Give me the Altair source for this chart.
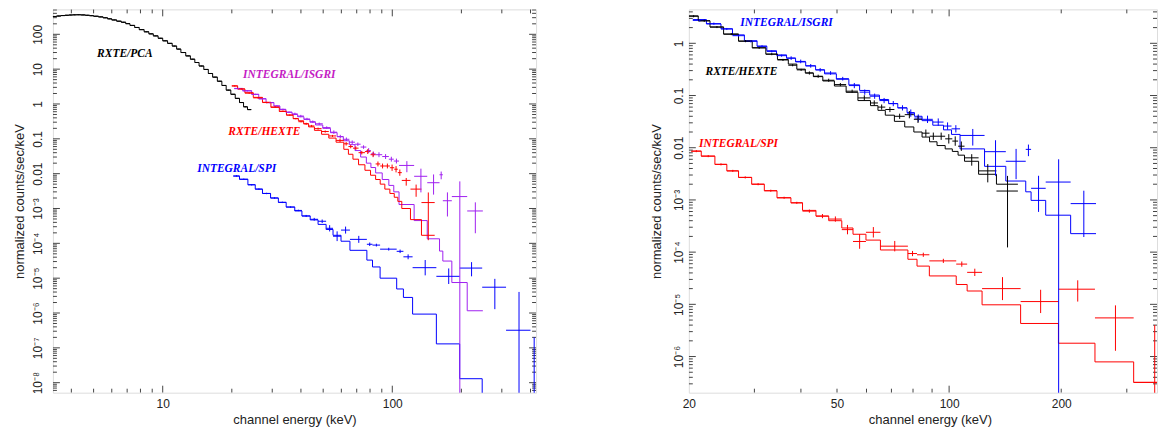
import math
import altair as alt
import pandas as pd

SANS = "Liberation Sans"
SERIF = "Liberation Serif"

# ---------------- data ----------------
# RXTE/PCA (left panel only): channel edges (keV) and counts
pca_edges = [3.3, 3.45, 3.6, 3.75, 3.9, 4.05, 4.2, 4.4, 4.6, 4.8, 5.0, 5.25, 5.5, 5.75, 6.0,
             6.3, 6.6, 6.9, 7.2, 7.55, 7.9, 8.3, 8.7, 9.1, 9.55, 10.0, 10.5, 11.0, 11.5, 12.0,
             12.6, 13.2, 13.8, 14.4, 15.1, 15.8, 16.5, 17.3, 18.1, 18.9, 19.8, 20.7, 21.6, 22.5,
             23.4, 24.3]
pca_vals = [325, 335, 345, 352, 358, 362, 364, 360, 352, 342, 330, 316, 298, 278, 258,
            238, 222, 202, 180, 157, 136, 118, 103, 90, 77, 65, 55, 46, 37.6, 30,
            24, 19.3, 15.5, 12.3, 9.8, 7.5, 5.9, 4.5, 3.4, 2.5, 1.9, 1.45, 1.1, 0.83, 0.69]

# INTEGRAL/ISGRI
isgri_edges = [20.5, 22.3, 24.4, 26.2, 28.2, 30.5, 32.4, 34.4, 36.6, 38.7, 41.2, 43.8, 46.3,
               49.8, 53.8, 57.5, 61.2, 65.0, 68.8, 72.8, 77.1, 80.7, 84.6, 90.4, 96.6, 101.5,
               107, 124.5, 142, 160.6, 166, 181.7, 212, 248]
isgri_data = [2.75, 2.38, 1.88, 1.40, 1.09, 0.88, 0.70, 0.58, 0.52, 0.45, 0.37, 0.31, 0.27,
              0.21, 0.155, 0.116, 0.097, 0.080, 0.070, 0.058, 0.046, 0.037, 0.035, 0.031,
              0.026, 0.023, 0.0172, 0.0084, 0.0055, 0.0093, 0.00167, 0.0022, 0.00085]
isgri_up = [0.02] * 8 + [0.035] * 6 + [0.05] * 6 + [0.07] * 6 + [0.124, 0.219, 0.237, 0.092, 0.24, 0.436, 0.247]
isgri_dn = [0.02] * 8 + [0.035] * 6 + [0.05] * 6 + [0.07] * 6 + [0.194, 0.462, 0.342, 0.13, 0.452, None, 0.64]
isgri_model_left = [2.8, 2.4, 1.9, 1.42, 1.1, 0.87, 0.70, 0.58, 0.50, 0.43, 0.36, 0.30, 0.25,
                    0.20, 0.15, 0.115, 0.088, 0.068, 0.046, 0.030, 0.020, 0.0150, 0.0105,
                    0.0068, 0.0046, 0.0030, 0.0013, 0.00045, 0.000135, 0.00006, 0.000031,
                    0.0000075, 0.00000116]
isgri_model_right = [2.85, 2.35, 1.9, 1.45, 1.12, 0.88, 0.72, 0.60, 0.52, 0.44, 0.37, 0.31, 0.26,
                     0.205, 0.16, 0.125, 0.102, 0.084, 0.070, 0.058, 0.047, 0.040, 0.033, 0.027,
                     0.022, 0.018, 0.0095, 0.0044, 0.0023, 0.00143, 0.00098, 0.00051, 0.000226]

# RXTE/HEXTE
hexte_edges = [20, 21.2, 22.8, 24.8, 27.2, 29.6, 32.2, 34.6, 37.0, 39.0, 41.1, 43.2, 45.8, 49.2,
               52.9, 56.9, 61.5, 64.4, 67.4, 71.3, 76.0, 80.4, 84.6, 88.6, 92.8, 97.6, 102,
               105.7, 110, 120, 134, 153]
hexte_data = [3.3, 2.7, 2.05, 1.5, 1.1, 0.82, 0.62, 0.48, 0.38, 0.31, 0.27, 0.234, 0.196, 0.162,
              0.121, 0.090, 0.072, 0.060, 0.054, 0.040, 0.043, 0.035, 0.019, 0.0166, 0.0166,
              0.0148, 0.0134, 0.0107, 0.0064, 0.0036, 0.00148]
hexte_up = [0.02] * 10 + [0.03] * 5 + [0.05] * 5 + [0.07] * 5 + [0.09] * 3 + [0.07, 0.13, 0.29]
hexte_dn = [0.02] * 10 + [0.03] * 5 + [0.05] * 5 + [0.07] * 5 + [0.09] * 3 + [0.15, 0.22, 1.08]
hexte_model_left = [3.3, 2.7, 2.1, 1.55, 1.12, 0.80, 0.61, 0.48, 0.38, 0.33, 0.27, 0.22, 0.175,
                    0.135, 0.105, 0.080, 0.050, 0.036, 0.026, 0.018, 0.0125, 0.0090, 0.0068,
                    0.0050, 0.0036, 0.0027, 0.0021, 0.0016, 0.0010, 0.00048, 0.00017]
hexte_model_right = [3.35, 2.7, 2.05, 1.5, 1.1, 0.82, 0.62, 0.49, 0.40, 0.32, 0.27, 0.23, 0.19,
                     0.152, 0.115, 0.080, 0.064, 0.052, 0.042, 0.032, 0.025, 0.020, 0.016,
                     0.013, 0.011, 0.0095, 0.0085, 0.0072, 0.0055, 0.0031, 0.0020]

# INTEGRAL/SPI
spi_edges = [20.3, 21.6, 23.5, 25.3, 27.2, 29.5, 31.9, 34.5, 37.6, 40.4, 43.9, 47.5, 51.5, 55.2,
             59.8, 65.4, 77.5, 82.0, 88.5, 104.5, 111.8, 122.6, 155.6, 196.6, 246.4, 313, 400, 430]
spi_data = [8.6e-3, 6.9e-3, 4.8e-3, 3.6e-3, 2.7e-3, 2.0e-3, 1.5e-3, 1.1e-3, 8.8e-4, 6.1e-4,
            4.9e-4, 4.3e-4, 2.7e-4, 1.6e-4, 2.4e-4, 1.3e-4, 9.4e-5, 8.9e-5, 6.8e-5, 5.9e-5,
            4.1e-5, 2.0e-5, 1.13e-5, 1.95e-5, 5.5e-6, 3.2e-7, 1e-10]
spi_up = [0.02] * 9 + [0.03, 0.04, 0.05, 0.09, 0.14, 0.10, 0.10, 0.05, 0.04, 0.04, 0.05, 0.07,
                        0.22, 0.226, 0.17, 0.24, 1.1, 3.3]
spi_dn = [0.02] * 9 + [0.03, 0.04, 0.05, 0.09, 0.14, 0.10, 0.10, 0.05, 0.04, 0.04, 0.05, 0.07,
                        0.22, 0.22, 0.237, 0.63, None, None]
spi_model_left = [8.5e-3, 6.9e-3, 4.8e-3, 3.6e-3, 2.7e-3, 2.0e-3, 1.5e-3, 1.1e-3, 8.5e-4, 6.1e-4,
                  4.7e-4, 3.5e-4, 2.5e-4, 1.7e-4, 1.15e-4, 6.3e-5, 3.3e-5, 2.1e-5, 1.0e-5, 4.9e-6,
                  2.8e-6, 9.3e-7, 1.3e-7, 1.3e-8, 0, 0]
spi_model_right = [8.6e-3, 6.9e-3, 4.8e-3, 3.6e-3, 2.7e-3, 2.0e-3, 1.5e-3, 1.1e-3, 8.8e-4, 6.3e-4,
                   4.9e-4, 4.0e-4, 2.9e-4, 2.2e-4, 1.7e-4, 1.1e-4, 7.3e-5, 5.4e-5, 3.5e-5, 2.4e-5,
                   1.8e-5, 9.8e-6, 4.3e-6, 1.8e-6, 7.9e-7, 3.2e-7]

# annotations
left_labels = ["RXTE/PCA", "INTEGRAL/ISGRI", "RXTE/HEXTE", "INTEGRAL/SPI"]
left_label_x = [6.84, 35.6, 27.7, 21.0]
left_label_y = [26.7, 6.7, 0.156, 0.0136]
left_label_c = ["#000000", "#c41cc4", "#ff0000", "#0000ff"]
right_labels = ["INTEGRAL/ISGRI", "RXTE/HEXTE", "INTEGRAL/SPI"]
right_label_x = [36.6, 27.7, 27.2]
right_label_y = [2.44, 0.279, 0.0119]
right_label_c = ["#0000ff", "#000000", "#ff0000"]

# tick labels and tick marks
left_y_vals = [1e-8, 1e-7, 1e-6, 1e-5, 1e-4, 1e-3, 0.01, 0.1, 1, 10, 100]
left_y_text = ["10⁻⁸", "10⁻⁷", "10⁻⁶", "10⁻⁵", "10⁻⁴", "10⁻³", "0.01", "0.1", "1", "10", "100"]
right_y_vals = [1e-6, 1e-5, 1e-4, 1e-3, 0.01, 0.1, 1]
right_y_text = ["10⁻⁶", "10⁻⁵", "10⁻⁴", "10⁻³", "0.01", "0.1", "1"]
left_x_vals = [10, 100]
right_x_vals = [20, 50, 100, 200]
left_x_major = [10, 100]
left_x_minor = [4, 5, 6, 7, 8, 9, 20, 30, 40, 50, 60, 70, 80, 90, 200, 300, 400]
right_x_major = [100]
right_x_minor = [30, 40, 50, 60, 70, 80, 90, 200, 300]

TINY = 1e-30
TICK = "#444444"
MAJ, MIN = 7, 4


def step_rows(name, color, edges, vals):
    rows = []
    n = len(vals)
    for i in range(n):
        rows.append(dict(s=name, c=color, x=edges[i], y=vals[i] if vals[i] > 0 else TINY, o=i))
    rows.append(dict(s=name, c=color, x=edges[n], y=vals[-1] if vals[-1] > 0 else TINY, o=n))
    return rows


def cross_rows(name, color, edges, vals, up, dn):
    rows = []
    for i, v in enumerate(vals):
        lo, hi = edges[i], edges[i + 1]
        rows.append(dict(s=name, c=color, x=lo, xhi=hi, xc=(lo + hi) / 2, y=v,
                         yhi=v * 10 ** up[i],
                         ylo=(v / 10 ** dn[i]) if dn[i] is not None else TINY))
    return rows


def tick_rows(xdom, ydom, W, H, xmaj, xmin, ymaj, ymin):
    """Inward ticks on all four sides, as short horizontal/vertical segments in data units."""
    ppd_x = W / math.log10(xdom[1] / xdom[0])
    ppd_y = H / math.log10(ydom[1] / ydom[0])
    rows = []
    for vals, size in ((xmaj, MAJ), (xmin, MIN)):
        f = 10 ** (size / ppd_y)
        for v in vals:
            # vertical segments: use xc / ylo / yhi columns
            rows.append(dict(s="tick", c=TICK, xc=v, ylo=ydom[0], yhi=ydom[0] * f))
            rows.append(dict(s="tick", c=TICK, xc=v, ylo=ydom[1] / f, yhi=ydom[1]))
    for vals, size in ((ymaj, MAJ), (ymin, MIN)):
        f = 10 ** (size / ppd_x)
        for v in vals:
            # horizontal segments: use x / xhi / y columns
            rows.append(dict(s="tick", c=TICK, x=xdom[0], xhi=xdom[0] * f, y=v))
            rows.append(dict(s="tick", c=TICK, x=xdom[1] / f, xhi=xdom[1], y=v))
    return rows


PURPLE, RED, BLUE, BLACK = "#a020f0", "#ff0000", "#0000ff", "#000000"


def label_expr(vals, texts):
    pairs = sorted(zip(vals, texts), key=lambda p: -p[0])
    e = ""
    for v, t in pairs:
        e += f"datum.value > {v * 0.5:.3e} ? '{t}' : "
    return e + "''"


def minor_values(lo, hi, exps):
    out = []
    for e in exps:
        for k in range(2, 10):
            v = k * 10.0 ** e
            if lo < v < hi:
                out.append(v)
    return out


def panel(steps, cross_list, ticks, text, xdom, ydom, W, H,
          xlab_vals, ylab_vals, ylab_text, ylabpad, ytitle_x, xtitle_x):
    xs = alt.Scale(type="log", domain=xdom, nice=False)
    ys = alt.Scale(type="log", domain=ydom, nice=False)
    color = alt.Color("c:N", scale=None)

    hdf = pd.DataFrame(cross_list + [t for t in ticks if "y" in t])
    vdf = pd.DataFrame(cross_list + [t for t in ticks if "xc" in t])
    hdf = hdf.dropna(subset=["x", "xhi", "y"])
    vdf = vdf.dropna(subset=["xc", "ylo", "yhi"])

    xlab = alt.Axis(orient="bottom", values=xlab_vals, format="d", ticks=False, tickSize=0,
                    domain=False, grid=False, labelPadding=6, labelFlush=False,
                    labelOverlap=False, labelFont=SANS, labelFontSize=12, labelColor="#222",
                    title="channel energy (keV)", titleFont=SANS, titleFontSize=13,
                    titleFontWeight="normal", titleColor="#222", titleX=xtitle_x, titleY=27,
                    titleAlign="center", titleBaseline="middle")
    ylab = alt.Axis(orient="left", values=ylab_vals, labelExpr=label_expr(ylab_vals, ylab_text),
                    ticks=False, tickSize=0, domain=False, grid=False, labelAngle=270,
                    labelAlign="center", labelBaseline="bottom", labelPadding=ylabpad,
                    labelFlush=False, labelOverlap=False, labelFont=SANS, labelFontSize=12,
                    labelColor="#222", title="normalized counts/sec/keV", titleFont=SANS,
                    titleFontSize=13, titleFontWeight="normal", titleColor="#222",
                    titleAngle=270, titleX=ytitle_x, titleY=H / 2, titleAlign="center",
                    titleBaseline="middle")

    l1 = alt.Chart(steps).mark_line(interpolate="step-after", clip=True, strokeWidth=1).encode(
        x=alt.X("x:Q", scale=xs, axis=xlab),
        y=alt.Y("y:Q", scale=ys, axis=ylab),
        color=color, detail="s:N", order=alt.Order("o:Q"))
    l2 = alt.Chart(hdf).mark_rule(clip=True, strokeWidth=1).encode(
        x=alt.X("x:Q", scale=xs), x2="xhi:Q",
        y=alt.Y("y:Q", scale=ys), color=color)
    l3 = alt.Chart(vdf).mark_rule(clip=True, strokeWidth=1).encode(
        x=alt.X("xc:Q", scale=xs),
        y=alt.Y("ylo:Q", scale=ys), y2="yhi:Q", color=color)
    l4 = alt.Chart(text).mark_text(font=SERIF, fontStyle="italic", fontWeight="bold",
                                   fontSize=11.5, align="center", baseline="middle").encode(
        x=alt.X("x:Q", scale=xs),
        y=alt.Y("y:Q", scale=ys),
        text="t:N", color=color)
    return alt.layer(l1, l2, l3, l4).properties(width=W, height=H)


H = 384
WL, WR = 484, 469
left_xdom = [3.325, 423]
left_ydom = [5.16e-9, 520]
right_xdom = [20, 361.6]
right_ydom = [2.03e-7, 4.47]

left_steps = pd.DataFrame(
    step_rows("pca", BLACK, pca_edges, pca_vals)
    + step_rows("isgri", PURPLE, isgri_edges, isgri_model_left)
    + step_rows("hexte", RED, hexte_edges, hexte_model_left)
    + step_rows("spi", BLUE, spi_edges, spi_model_left))
left_cross = (
    cross_rows("pca", BLACK, pca_edges, pca_vals, [0.01] * len(pca_vals), [0.01] * len(pca_vals))
    + cross_rows("isgri", PURPLE, isgri_edges, isgri_data, isgri_up, isgri_dn)
    + cross_rows("hexte", RED, hexte_edges, hexte_data, hexte_up, hexte_dn)
    + cross_rows("spi", BLUE, spi_edges, spi_data, spi_up, spi_dn))
left_text = pd.DataFrame(dict(t=left_labels, x=left_label_x, y=left_label_y, c=left_label_c))
left_ticks = tick_rows(left_xdom, left_ydom, WL, H, left_x_major, left_x_minor, left_y_vals,
                       minor_values(left_ydom[0], left_ydom[1], range(-9, 3)))

right_steps = pd.DataFrame(
    step_rows("isgri", BLUE, isgri_edges, isgri_model_right)
    + step_rows("hexte", BLACK, hexte_edges, hexte_model_right)
    + step_rows("spi", RED, spi_edges[:-1], spi_model_right))
right_cross = (
    cross_rows("isgri", BLUE, isgri_edges, isgri_data, isgri_up, isgri_dn)
    + cross_rows("hexte", BLACK, hexte_edges, hexte_data, hexte_up, hexte_dn)
    + cross_rows("spi", RED, spi_edges, spi_data, spi_up, spi_dn))
right_text = pd.DataFrame(dict(t=right_labels, x=right_label_x, y=right_label_y, c=right_label_c))
right_ticks = tick_rows(right_xdom, right_ydom, WR, H, right_x_major, right_x_minor, right_y_vals,
                        minor_values(right_ydom[0], right_ydom[1], range(-7, 1)))

left = panel(left_steps, left_cross, left_ticks, left_text, left_xdom, left_ydom, WL, H,
             left_x_vals, left_y_vals, left_y_text, 8, -33, 242)
right = panel(right_steps, right_cross, right_ticks, right_text, right_xdom, right_ydom, WR, H,
              right_x_vals, right_y_vals, right_y_text, 3, -32, 241.5)

chart = alt.hconcat(left, right, spacing=113).properties(
    padding={"left": 5, "top": 0, "right": 0, "bottom": 0}
).configure_view(stroke="#555555", strokeWidth=1.5).configure(background="white")

chart.save("out.html", embed_options={"renderer": "svg", "actions": False})
